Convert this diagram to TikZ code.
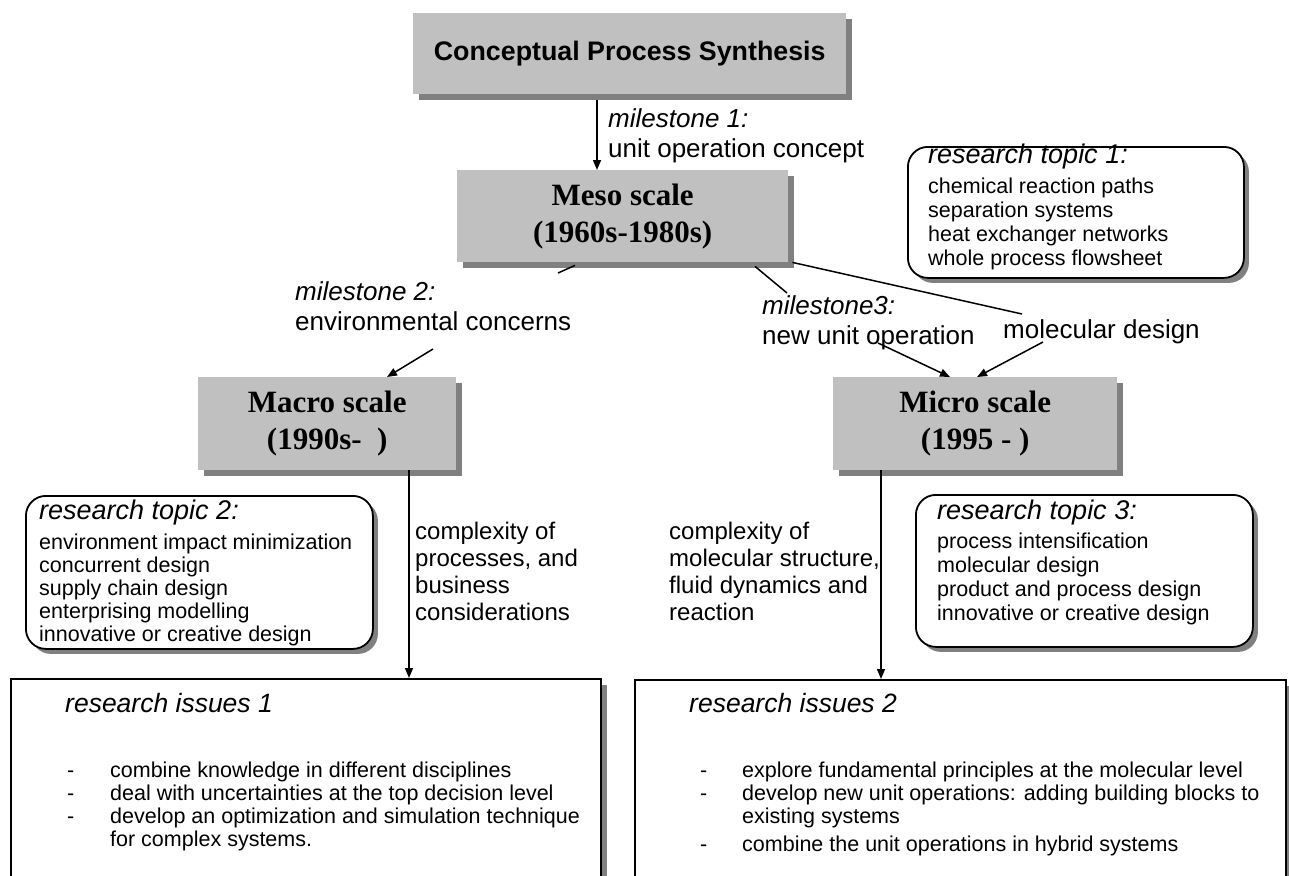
\documentclass[tikz,border=0pt]{standalone}
\usepackage{fontspec}
\setmainfont{Liberation Serif}
\setsansfont{Liberation Sans}
\usetikzlibrary{arrows.meta,shadows,calc}
\definecolor{boxgray}{HTML}{C0C0C0}
\definecolor{shadegray}{HTML}{808080}
\newcommand\tophead[1]{{\fontsize{27}{24}\selectfont\itshape #1}}
\tikzset{
  scalebox/.style={fill=boxgray, inner sep=0pt, anchor=north west, align=center,
    general shadow={fill=shadegray, shadow xshift=6pt, shadow yshift=-6pt}},
  timesbig/.style={font=\bfseries\fontsize{31}{37}\selectfont},
  topicbox/.style={draw, line width=1.8pt, rounded corners=20pt, fill=white, anchor=north west, inner sep=0pt,
    general shadow={fill=shadegray, shadow xshift=5pt, shadow yshift=-5pt}},
  issuebox/.style={draw, line width=1.8pt, fill=white, anchor=north west, inner sep=0pt,
    general shadow={fill=shadegray, shadow xshift=6pt, shadow yshift=-6pt}},
  lbl/.style={anchor=north west, inner sep=0pt, font=\sffamily\fontsize{26}{30}\selectfont},
  cplx/.style={anchor=north west, inner sep=0pt, font=\sffamily\fontsize{24}{27}\selectfont},
  topictext/.style={anchor=north west, inner sep=0pt, font=\sffamily\fontsize{21.5}{24}\selectfont},
  issuetext/.style={anchor=north west, inner sep=0pt, font=\sffamily\fontsize{21.5}{23}\selectfont},
  issuehead/.style={anchor=base west, inner sep=0pt, font=\sffamily\itshape\fontsize{26.5}{30}\selectfont},
  conn/.style={line width=1.5pt},
  arr/.style={line width=1.5pt, -{Triangle[length=10pt,width=8pt]}},
}
\begin{document}
\begin{tikzpicture}[x=1pt,y=-1pt]
\useasboundingbox (0,0) rectangle (1289,875);
\clip (0,0) rectangle (1289,875);

% scale boxes
\node[scalebox, minimum width=433pt, minimum height=81pt, font=\sffamily\bfseries\fontsize{26.8}{30}\selectfont] (cps) at (413,13) {Conceptual Process Synthesis};
\node[scalebox, timesbig, minimum width=331pt, minimum height=92pt] (meso) at (457,170) {Meso scale\\(1960s-1980s)};
\node[scalebox, timesbig, minimum width=258pt, minimum height=93pt] (macro) at (198,377) {Macro scale\\(1990s-\hspace{0.5em})};
\node[scalebox, timesbig, minimum width=284pt, minimum height=93pt] (micro) at (833,377) {Micro scale\\(1995 - )};

% research topic boxes
\node[topicbox, minimum width=336pt, minimum height=131pt] (rt1box) at (907,146) {};
\node[topicbox, minimum width=347pt, minimum height=153pt] (rt2box) at (25,495) {};
\node[topicbox, minimum width=337pt, minimum height=152pt] (rt3box) at (915,494) {};

\node[topictext] (rt1) at (928,144) {\begin{tabular}{@{}l@{}}\tophead{research topic 1:}\\[6pt]
chemical reaction paths\\ separation systems\\ heat exchanger networks\\ whole process flowsheet\end{tabular}};
\node[topictext, font=\sffamily\fontsize{21.5}{23}\selectfont] (rt2) at (39,500) {\begin{tabular}{@{}l@{}}\tophead{research topic 2:}\\[7pt]
environment impact minimization\\ concurrent design\\ supply chain design\\ enterprising modelling\\ innovative or creative design\end{tabular}};
\node[topictext] (rt3) at (937,500) {\begin{tabular}{@{}l@{}}\tophead{research topic 3:}\\[5pt]
process intensification\\ molecular design\\ product and process design\\ innovative or creative design\end{tabular}};

% research issues boxes
\node[issuebox, minimum width=590pt, minimum height=260pt] (ri1) at (10,678) {};
\node[issuebox, minimum width=651pt, minimum height=260pt] (ri2) at (634,679) {};
\node[issuehead] (ri1h) at (65,712) {research issues 1};
\node[issuehead] (ri2h) at (689,712) {research issues 2};
\node[issuetext] (ri1t) at (67,761) {\begin{tabular}{@{}p{43pt}@{}l@{}}
- & combine knowledge in different disciplines\\
- & deal with uncertainties at the top decision level\\
- & develop an optimization and simulation technique\\
  & for complex systems.\end{tabular}};
\node[issuetext] (ri2t) at (700,761) {\begin{tabular}{@{}p{42pt}@{}l@{}}
- & explore fundamental principles at the molecular level\\
- & develop new unit operations: adding building blocks to\\
  & existing systems\\[5pt]
- & combine the unit operations in hybrid systems\end{tabular}};

% labels
\node[lbl] (ms1) at (608,106) {\begin{tabular}{@{}l@{}}\textit{milestone 1:}\\unit operation concept\end{tabular}};
\node[lbl] (ms2) at (295,279) {\begin{tabular}{@{}l@{}}\textit{milestone 2:}\\environmental concerns\end{tabular}};
\node[lbl] (ms3) at (762,293) {\begin{tabular}{@{}l@{}}\textit{milestone3:}\\new unit operation\end{tabular}};
\node[lbl, anchor=base west] (mol) at (1003,338) {molecular design};
\node[cplx] (cx1) at (415,520) {\begin{tabular}{@{}l@{}}complexity of\\processes, and\\business\\considerations\end{tabular}};
\node[cplx] (cx2) at (669,520) {\begin{tabular}{@{}l@{}}complexity of\\molecular structure,\\fluid dynamics and\\reaction\end{tabular}};

% connectors
\draw[arr] ([xshift=184pt,yshift=-6pt]cps.south west) coordinate (a1s) -- (a1s |- meso.north);

\coordinate (m2b) at (558,273);
\coordinate (m2c) at (433,349);
\draw[conn] ([xshift=118pt,yshift=-3pt]meso.south west) -- (m2b);
\draw[arr] (m2c) -- ([xshift=189pt]macro.north west);

\coordinate (m3b) at (787,293);
\coordinate (m3c) at (878,343);
\draw[conn] ([xshift=298pt,yshift=-4pt]meso.south west) -- (m3b);
\draw[arr] (m3c) -- ([xshift=117pt]micro.north west);

\coordinate (mdb) at (1022,314);
\coordinate (mdc) at (1043,342);
\draw[conn] ([xshift=4pt]meso.south east) -- (mdb);
\draw[arr] (mdc) -- ([xshift=144pt]micro.north west);

\coordinate (macbot) at ([xshift=211pt]macro.south west);
\draw[arr] (macbot) -- (macbot |- ri1.north);
\coordinate (micbot) at ([xshift=48pt]micro.south west);
\draw[arr] (micbot) -- (micbot |- ri2.north);
\end{tikzpicture}
\end{document}
